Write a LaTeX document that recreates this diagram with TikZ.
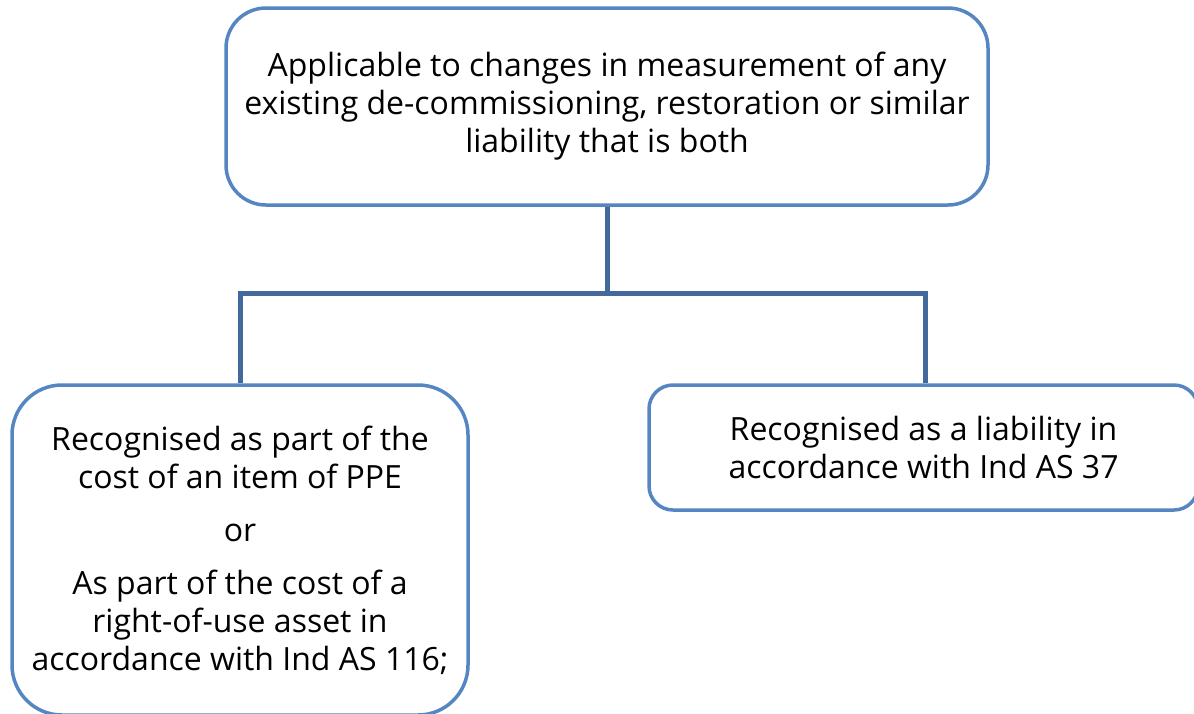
\documentclass[tikz,border=0pt]{standalone}
\usepackage{fontspec}
\setmainfont{Open Sans}
\definecolor{boxblue}{RGB}{86,134,193}
\definecolor{linkblue}{RGB}{66,104,156}
\begin{document}
\begin{tikzpicture}[x=1pt,y=-1pt,
  box/.style={draw=boxblue, line width=3.5pt, fill=white, inner sep=0pt,
    align=center, font=\fontsize{32}{38}\selectfont},
  link/.style={draw=linkblue, line width=5pt, line join=miter}]
  \useasboundingbox (0,0) rectangle (1194,713);

  % top statement
  \node[box, rounded corners=40pt, minimum width=762pt, minimum height=197pt]
    (top) at (607,106.5)
    {Applicable to changes in measurement of any\\
     existing de-commissioning, restoration or similar\\
     liability that is both};

  % left outcome
  \node[box, rounded corners=50pt, minimum width=456pt, minimum height=330pt]
    (left) at (240,550)
    {Recognised as part of the\\
     cost of an item of PPE\\[15pt]
     or\\[15pt]
     As part of the cost of a\\
     right-of-use asset in\\
     accordance with Ind AS 116;};

  % right outcome
  \node[box, rounded corners=24pt, minimum width=549pt, minimum height=125pt]
    (right) at (923.5,447.5)
    {Recognised as a liability in\\
     accordance with Ind AS 37};

  % tree connector
  \coordinate (split) at (top.south |- 0,293);
  \coordinate (rdrop) at (925,0);
  \draw[link] (top.south) -- (split);
  \draw[link] (left.north) |- (split) -| (right.north -| rdrop);
\end{tikzpicture}
\end{document}
